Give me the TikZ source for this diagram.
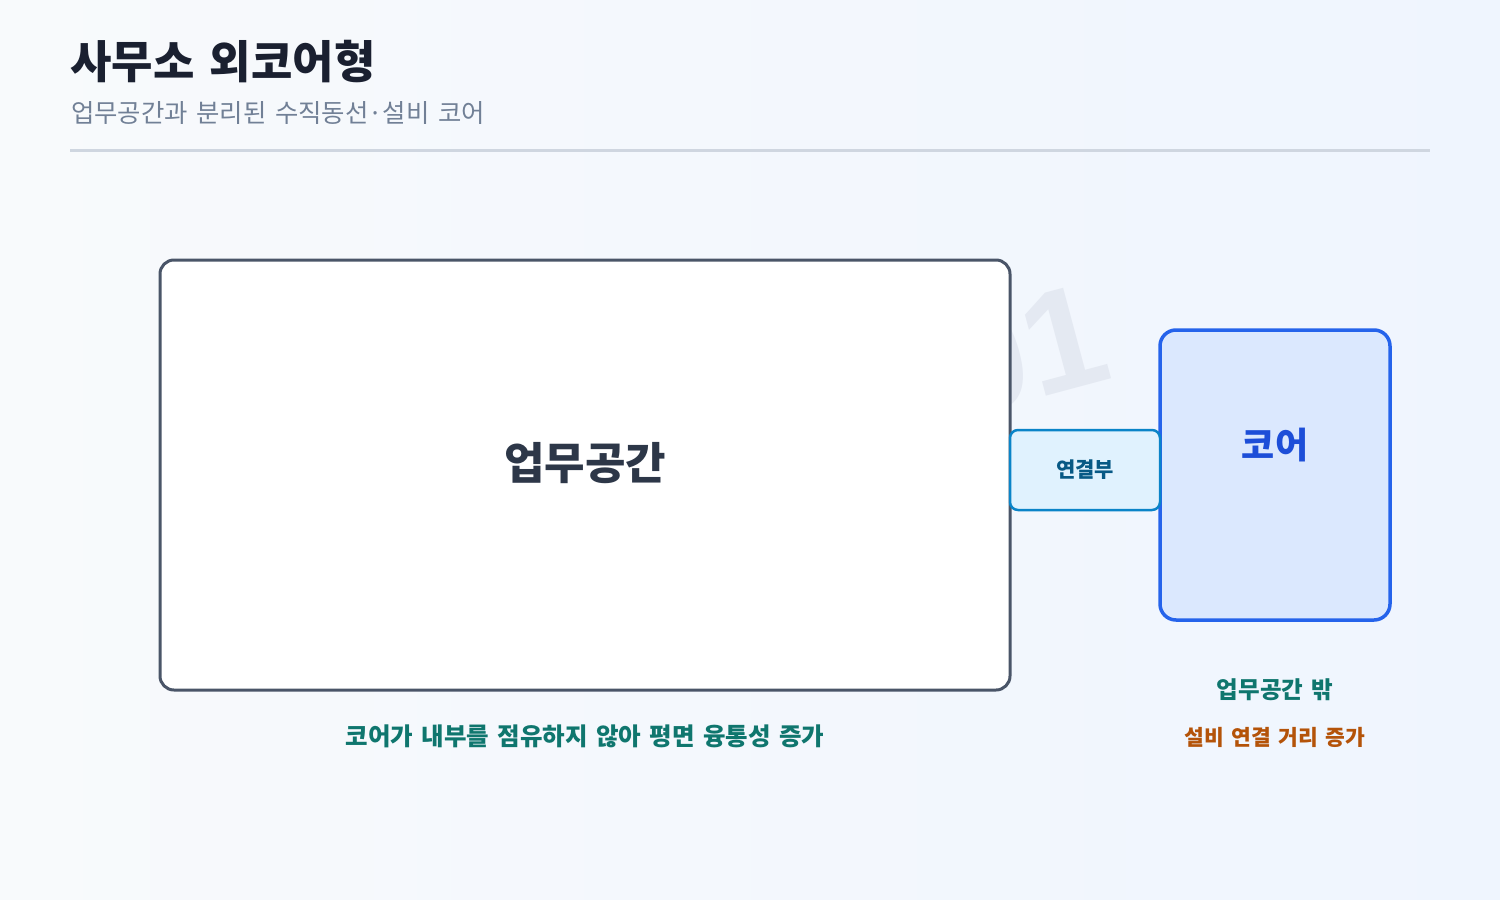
\documentclass[tikz,border=0pt]{standalone}
\usepackage{fontspec}
\setmainfont{Noto Sans CJK KR}[WordSpace=1.5]
\newfontfamily\markfont{Liberation Sans}
\definecolor{bgleft}{HTML}{F8FAFC}
\definecolor{bgright}{HTML}{EFF5FE}
\definecolor{titlecol}{HTML}{1A2030}
\definecolor{subcol}{HTML}{718096}
\definecolor{rulecol}{HTML}{CFD6E0}
\definecolor{markcol}{HTML}{E4E9F2}
\definecolor{workline}{HTML}{4A5568}
\definecolor{worktext}{HTML}{2D3748}
\definecolor{linkfill}{HTML}{E0F2FE}
\definecolor{linkline}{HTML}{0A84C8}
\definecolor{linktext}{HTML}{075985}
\definecolor{corefill}{HTML}{DBE8FE}
\definecolor{coreline}{HTML}{2563EB}
\definecolor{coretext}{HTML}{1D4ED8}
\definecolor{goodcol}{HTML}{0F766E}
\definecolor{badcol}{HTML}{B45309}
\tikzset{
  workbox/.style={draw=workline, fill=white, line width=3pt, rounded corners=14pt,
    minimum width=850pt, minimum height=430pt, inner sep=0pt},
  linkbox/.style={draw=linkline, fill=linkfill, line width=2.5pt, rounded corners=8pt,
    minimum width=150pt, minimum height=80pt, inner sep=0pt},
  corebox/.style={draw=coreline, fill=corefill, line width=3.5pt, rounded corners=16pt,
    minimum width=230pt, minimum height=290pt, inner sep=0pt},
  txt/.style={inner sep=0pt, font=\bfseries}
}
\begin{document}
\begin{tikzpicture}[x=1pt,y=-1pt]
  \useasboundingbox (0,0) rectangle (1500,900);
  \shade[left color=bgleft, right color=bgright] (0,0) rectangle (1500,900);

  % title
  \node[txt, anchor=west, text=titlecol, font=\fontsize{45}{50}\selectfont\bfseries] (title) at (70,62) {사무소 외코어형};
  \node[inner sep=0pt, anchor=west, text=subcol, font=\fontsize{25.4}{30}\selectfont] (subtitle) at (71,113) {업무공간과 분리된 수직동선·설비 코어};
  \coordinate (ruleL) at (70,150);
  \coordinate (ruleR) at (1430,150);
  \draw[rulecol, line width=3pt] (ruleL) -- (ruleR);

  % watermark
  \node[inner sep=0pt, text=markcol, rotate=15, font=\fontsize{145}{145}\markfont\bfseries] (mark) at (1025,350) {01};

  % boxes
  \node[workbox] (work) at (585,475) {};
  \node[corebox] (core) at (1275,475) {};
  \node[linkbox] (link) at (1085,470) {};

  \node[txt, text=worktext, font=\fontsize{44}{50}\selectfont\bfseries] (worklabel) at (585,463) {업무공간};
  \node[txt, text=linktext, font=\fontsize{21}{24}\selectfont\bfseries] (linklabel) at (link) {연결부};
  \node[txt, text=coretext, font=\fontsize{36}{42}\selectfont\bfseries] (corelabel) at (1275,445) {코어};

  % notes
  \node[txt, text=goodcol, font=\fontsize{24.5}{28}\selectfont\bfseries] (worknote) at (585,736) {코어가 내부를 점유하지 않아 평면 융통성 증가};
  \node[txt, text=goodcol, font=\fontsize{23.5}{28}\selectfont\bfseries] (corenote) at (1275,690) {업무공간 밖};
  \node[txt, text=badcol, font=\fontsize{21.5}{26}\selectfont\bfseries] (corecost) at (1275,737) {설비 연결 거리 증가};
\end{tikzpicture}
\end{document}
